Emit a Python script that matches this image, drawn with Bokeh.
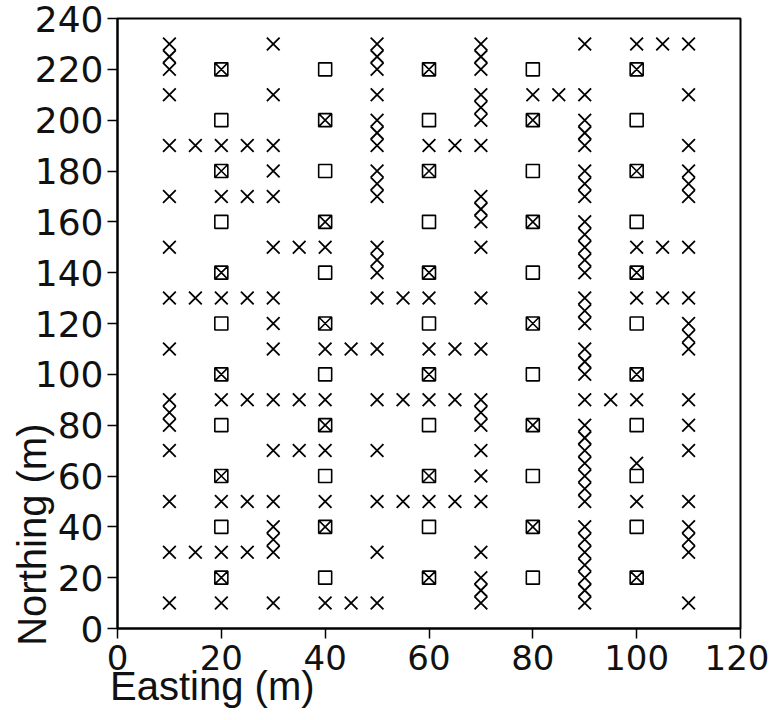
from bokeh.plotting import figure
from bokeh.models import Range1d, FixedTicker, ColumnDataSource
from bokeh.embed import file_html
from bokeh.resources import INLINE

# Northings (m) of single sampling points, one list per easting column (m)
cross_e10 = [230, 225, 220, 210, 190, 170, 150, 130, 110, 90, 85, 80, 70, 50, 30, 10]
cross_e15 = [190, 130, 30]
cross_e20 = [190, 170, 130, 90, 50, 30, 10]
cross_e25 = [190, 170, 130, 90, 50, 30]
cross_e30 = [230, 210, 190, 180, 170, 150, 130, 120, 110, 90, 70, 50, 40, 35, 30, 10]
cross_e35 = [150, 90, 70]
cross_e40 = [150, 110, 90, 70, 50, 10]
cross_e45 = [110, 10]
cross_e50 = [230, 225, 220, 210, 200, 195, 190, 180, 175, 170, 150, 145, 140,
             130, 110, 90, 70, 50, 30, 10]
cross_e55 = [130, 90, 50]
cross_e60 = [190, 130, 110, 90, 50]
cross_e65 = [190, 110, 90, 50]
cross_e70 = [230, 225, 220, 210, 205, 200, 190, 170, 165, 160, 150, 130, 110,
             90, 85, 80, 70, 60, 50, 30, 20, 15, 10]
cross_e80 = [210]
cross_e85 = [210]
cross_e90 = [230, 210, 200, 195, 190, 180, 175, 170, 160, 155, 150, 145, 140,
             130, 125, 120, 110, 105, 100, 90, 80, 75, 70, 65, 60, 55, 50,
             40, 35, 30, 25, 20, 15, 10]
cross_e95 = [90]
cross_e100 = [230, 150, 130, 90, 65, 50]
cross_e105 = [230, 150, 130]
cross_e110 = [230, 210, 190, 180, 175, 170, 150, 130, 120, 115, 110, 90, 80,
              70, 50, 40, 35, 30, 10]

# Northings (m) of open-square points, per easting column
open_e20 = [200, 160, 120, 80, 40]
open_e40 = [220, 180, 140, 100, 60, 20]
open_e60 = [200, 160, 120, 80, 40]
open_e80 = [220, 180, 140, 100, 60, 20]
open_e100 = [200, 160, 120, 80, 60, 40]

# Northings (m) of crossed-square points, per easting column
boxed_e20 = [220, 180, 140, 100, 60, 20]
boxed_e40 = [200, 160, 120, 80, 40]
boxed_e60 = [220, 180, 140, 100, 60, 20]
boxed_e80 = [200, 160, 120, 80, 40]
boxed_e100 = [220, 180, 140, 100, 20]

x_ticks = [0, 20, 40, 60, 80, 100, 120]
y_ticks = [0, 20, 40, 60, 80, 100, 120, 140, 160, 180, 200, 220, 240]

cross_cols = [(10, cross_e10), (15, cross_e15), (20, cross_e20), (25, cross_e25),
              (30, cross_e30), (35, cross_e35), (40, cross_e40), (45, cross_e45),
              (50, cross_e50), (55, cross_e55), (60, cross_e60), (65, cross_e65),
              (70, cross_e70), (80, cross_e80), (85, cross_e85), (90, cross_e90),
              (95, cross_e95), (100, cross_e100), (105, cross_e105), (110, cross_e110)]
open_cols = [(20, open_e20), (40, open_e40), (60, open_e60), (80, open_e80), (100, open_e100)]
boxed_cols = [(20, boxed_e20), (40, boxed_e40), (60, boxed_e60), (80, boxed_e80), (100, boxed_e100)]


def flatten(cols):
    xs, ys = [], []
    for east, norths in cols:
        for n in norths:
            xs.append(east)
            ys.append(n)
    return ColumnDataSource(data=dict(easting=xs, northing=ys))


TITLE_FONT = "Liberation Sans"
TICK_FONT = "DejaVu Sans"
INK = "#111111"
NBSP = "\u00a0"

p = figure(width=769, height=720,
           x_range=Range1d(0, 120), y_range=Range1d(0, 240),
           output_backend="svg", toolbar_location=None,
           min_border_left=117, min_border_right=29,
           min_border_top=18, min_border_bottom=92)

p.grid.visible = False
p.outline_line_color = "black"
p.outline_line_width = 2
p.background_fill_color = "white"
p.border_fill_color = "white"

p.xaxis.ticker = FixedTicker(ticks=x_ticks)
p.yaxis.ticker = FixedTicker(ticks=y_ticks)
# axis titles sit toward the origin; trailing non-breaking spaces push the
# centred title text back toward the start of each axis
p.xaxis.axis_label = "Easting (m)" + NBSP * 39
p.yaxis.axis_label = "Northing (m)" + NBSP * 38

for ax in (p.xaxis[0], p.yaxis[0]):
    ax.axis_line_color = "black"
    ax.axis_line_width = 2
    ax.major_tick_line_color = "black"
    ax.major_tick_line_width = 1.5
    ax.major_tick_out = 10
    ax.major_tick_in = 0
    ax.minor_tick_line_color = None
    ax.major_label_text_font = TICK_FONT
    ax.major_label_text_color = INK
    ax.axis_label_text_font = TITLE_FONT
    ax.axis_label_text_font_size = "40px"
    ax.axis_label_text_font_style = "normal"
    ax.axis_label_text_color = INK

p.xaxis.major_label_text_font_size = "34px"
p.xaxis.major_label_standoff = 6
p.xaxis.axis_label_standoff = -9
p.yaxis.major_label_text_font_size = "36px"
p.yaxis.major_label_standoff = 4
p.yaxis.axis_label_standoff = -22

p.scatter("easting", "northing", source=flatten(cross_cols), marker="x",
          size=18, line_color="black", line_width=1.8)
p.scatter("easting", "northing", source=flatten(open_cols), marker="square",
          size=13, fill_color=None, line_color="black", line_width=1.6)
p.scatter("easting", "northing", source=flatten(boxed_cols), marker="square_x",
          size=13, fill_color=None, line_color="black", line_width=1.6)

open("out.html", "w").write(file_html(p, INLINE))
